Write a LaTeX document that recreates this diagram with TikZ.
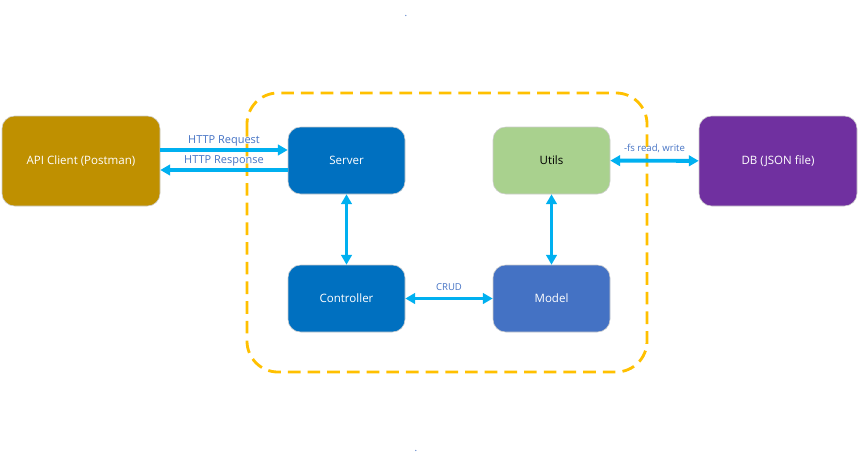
\documentclass[tikz,border=0pt]{standalone}
\usepackage{fontspec}
\setmainfont{Open Sans}
\usetikzlibrary{arrows.meta}
\definecolor{clientgold}{HTML}{BF9000}
\definecolor{serverblue}{HTML}{0070C0}
\definecolor{utilsgreen}{HTML}{A9D18E}
\definecolor{dbpurple}{HTML}{7030A0}
\definecolor{modelblue}{HTML}{4472C4}
\definecolor{arrowcyan}{HTML}{00B0F0}
\definecolor{boxorange}{HTML}{FFC000}
\definecolor{labelblue}{HTML}{4472C4}
\tikzset{
  block/.style={draw=gray!40,rounded corners=9pt,text=white,align=center,font=\fontsize{8.2}{10}\selectfont},
  smallblock/.style={block,minimum width=117*0.025cm,minimum height=67*0.025cm},
  bigblock/.style={block,minimum width=158*0.025cm,minimum height=90*0.025cm},
  link/.style={arrowcyan,line width=2.8pt,-{Triangle[length=7pt,width=7.5pt]}},
  duallink/.style={link,{Triangle[length=7pt,width=7.5pt]}-{Triangle[length=7pt,width=7.5pt]}},
  linklabel/.style={text=labelblue,font=\fontsize{7.8}{9}\selectfont,inner sep=1pt},
  tinylabel/.style={linklabel,font=\fontsize{6.8}{8}\selectfont}
}
\begin{document}
\begin{tikzpicture}[x=0.025cm,y=-0.025cm]
			\useasboundingbox (0,0) rectangle (859,468);
			% app boundary
			\draw[boxorange,line width=2pt,dash pattern=on 9pt off 5pt,rounded corners=22pt] (247,93) rectangle (647,372);
			\node[bigblock,fill=clientgold] (client) at (81,161) {API Client (Postman)};
			\node[smallblock,fill=serverblue] (server) at (346.5,160.5) {Server};
			\node[smallblock,fill=utilsgreen,text=black] (utils) at (551.5,160.5) {Utils};
			\node[bigblock,fill=dbpurple] (db) at (778,161) {DB (JSON file)};
			\node[smallblock,fill=serverblue] (controller) at (346.5,298.5) {Controller};
			\node[smallblock,fill=modelblue] (model) at (551.5,298.5) {Model};
			\draw[link] (client.east |- 0,150) -- node[linklabel,above] (req) {HTTP Request} (server.west |- 0,150);
			\draw[link] (server.west |- 0,170) -- node[linklabel,above] (resp) {HTTP Response} (client.east |- 0,170);
			\draw[duallink] (server) -- (controller);
			\draw[duallink] (utils) -- (model);
			\draw[duallink] (controller) -- node[tinylabel,above=3pt] (crud) {CRUD} (model);
			\draw[duallink] (utils) -- node[tinylabel,above=3pt] (fs) {-fs read, write} (db);
			% stray dots
			\node[text=modelblue,font=\scriptsize] (dottop) at (406,16) {.};
			\node[text=modelblue,font=\scriptsize] (dotbottom) at (416,451) {.};
		\end{tikzpicture}
\end{document}
